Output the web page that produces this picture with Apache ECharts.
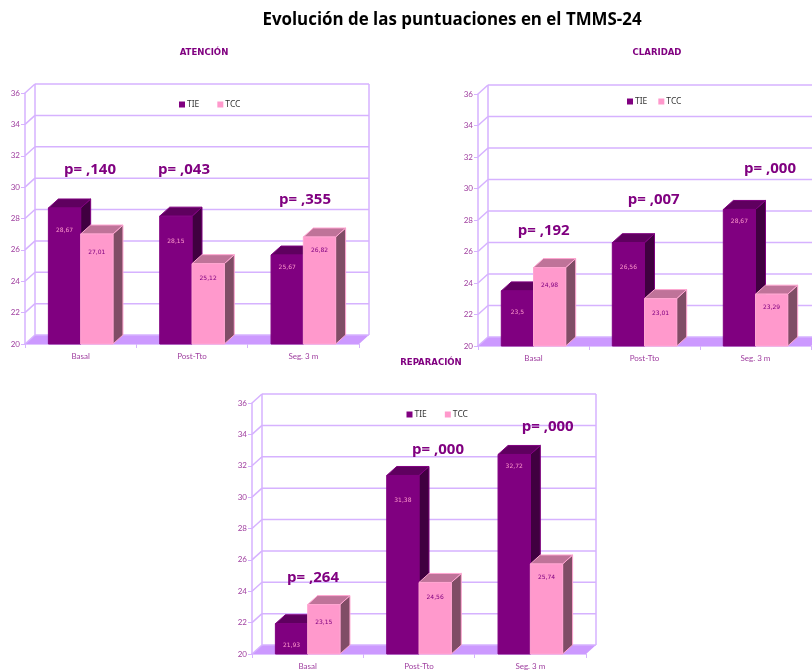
<!DOCTYPE html>
<html><head><meta charset="utf-8">
<style>html,body{margin:0;padding:0;background:#fff}#c{width:812px;height:670px}</style>
<script src="https://cdn.jsdelivr.net/npm/echarts@6/dist/echarts.min.js"></script>
</head><body><div id="c"></div>
<script>
const categories = ['Basal', 'Post-Tto', 'Seg. 3 m'];
const seriesNames = ['TIE', 'TCC'];
const yTicks = [20, 22, 24, 26, 28, 30, 32, 34, 36];
const panelTitles = ['ATENCIÓN', 'CLARIDAD', 'REPARACIÓN'];
const atencionTIE = [28.67, 28.15, 25.67];
const atencionTCC = [27.01, 25.12, 26.82];
const claridadTIE = [23.5, 26.56, 28.67];
const claridadTCC = [24.98, 23.01, 23.29];
const reparacionTIE = [21.93, 31.38, 32.72];
const reparacionTCC = [23.15, 24.56, 25.74];
const atencionP = ['p= ,140', 'p= ,043', 'p= ,355'];
const claridadP = ['p= ,192', 'p= ,007', 'p= ,000'];
const reparacionP = ['p= ,264', 'p= ,000', 'p= ,000'];

// layout
const panels = [
  {tie: atencionTIE, tcc: atencionTCC, p: atencionP, grid: {left: 25, top: 93, width: 334, height: 251},
   titleX: 204, titleY: 48, legend: {left: 179, top: 100, itemGap: 18}, pPos: [[64,169],[158,169],[279,199]]},
  {tie: claridadTIE, tcc: claridadTCC, p: claridadP, grid: {left: 478, top: 94, width: 333, height: 252},
   titleX: 657, titleY: 48, legend: {left: 627, top: 97, itemGap: 11}, pPos: [[517.7,230],[627.7,199],[744,168]]},
  {tie: reparacionTIE, tcc: reparacionTCC, p: reparacionP, grid: {left: 252, top: 403, width: 334, height: 251},
   titleX: 431, titleY: 358, legend: {left: 406.5, top: 410, itemGap: 18}, pPos: [[287,577],[412,449],[521.7,426]]}
];
const labelDrop = [[22, 25, 12], [18, 15, 13]];
const depthX = 10, depthY = 9, barRatio = 0.29;
const wallColor = '#CC99FF', wallLine = '#D6B2FF';
const barStyles = [
  {front: '#800080', top: '#5F005F', side: '#400040', edge: '#800080', text: '#FF99CC'},
  {front: '#FF99CC', top: '#BF7399', side: '#804D66', edge: '#FFA6D2', text: '#800080'}
];

function renderWall(params, api) {
  const cs = params.coordSys;
  const v = api.value(1);
  const y = api.coord([0, v])[1];
  const L = cs.x, R = cs.x + cs.width;
  const line = (x1, y1, x2, y2) => ({type: 'line', shape: {x1, y1, x2, y2},
    style: {stroke: wallLine, lineWidth: 1.5, fill: null}});
  const children = [
    line(L, y, L + depthX, y - depthY),
    line(L + depthX, y - depthY, R + depthX, y - depthY)
  ];
  if (v === yTicks[0]) {
    children.unshift({type: 'polygon', shape: {points: [[L, y], [R, y], [R + depthX, y - depthY], [L + depthX, y - depthY]]},
      style: {fill: wallColor}});
    children.push(line(L + depthX, y - depthY, L + depthX, cs.y - depthY));
    children.push(line(R + depthX, y - depthY, R + depthX, cs.y - depthY));
  }
  return {type: 'group', children};
}

function renderBar(seriesIdx) {
  const st = barStyles[seriesIdx];
  return function (params, api) {
    const i = api.value(0), val = api.value(1);
    const band = api.size([1, 0])[0];
    const w = band * barRatio;
    const c = api.coord([i, val]), b = api.coord([i, yTicks[0]]);
    const x0 = c[0] - w + seriesIdx * w, x1 = x0 + w, yT = c[1], yB = b[1];
    const edge = {stroke: st.edge, lineWidth: 1};
    return {type: 'group', children: [
      {type: 'polygon', shape: {points: [[x1, yT], [x1 + depthX, yT - depthY], [x1 + depthX, yB - depthY], [x1, yB]]},
       style: Object.assign({fill: st.side}, edge)},
      {type: 'polygon', shape: {points: [[x0, yT], [x0 + depthX, yT - depthY], [x1 + depthX, yT - depthY], [x1, yT]]},
       style: Object.assign({fill: st.top}, edge)},
      {type: 'rect', shape: {x: x0, y: yT, width: w, height: yB - yT},
       style: Object.assign({fill: st.front}, edge)},
      {type: 'text', x: (x0 + x1) / 2, y: yT + labelDrop[seriesIdx][i],
       style: {text: String(val).replace('.', ','), fill: st.text, font: '6px "DejaVu Sans"',
               textAlign: 'center', textVerticalAlign: 'middle'}}
    ]};
  };
}

const grid = [], xAxis = [], yAxis = [], series = [], legend = [], graphic = [];
const title = [{text: 'Evolución de las puntuaciones en el TMMS-24', left: 452, top: 12, padding: 0, textAlign: 'center',
  textStyle: {fontFamily: 'Open Sans', fontSize: 16.9, fontWeight: 'bold', color: '#000'}}];
const axisLine = {show: true, lineStyle: {color: wallLine, width: 1.5}};
const axisFont = {color: '#A040A0', fontSize: 8, fontFamily: 'Lato'};

panels.forEach((p, k) => {
  grid.push(Object.assign({containLabel: false}, p.grid));
  xAxis.push({type: 'category', gridIndex: k, data: categories, boundaryGap: true,
    axisLine, axisTick: {show: true, length: 4, lineStyle: {color: wallLine}},
    axisLabel: Object.assign({margin: 8}, axisFont), splitLine: {show: false}});
  yAxis.push({type: 'value', gridIndex: k, min: 20, max: 36, interval: 2,
    axisLine, axisTick: {show: true, length: 4, lineStyle: {color: wallLine}},
    axisLabel: Object.assign({margin: 5, padding: [3, 0, 0, 0]}, axisFont), splitLine: {show: false}});
  series.push({type: 'custom', name: 'wall' + k, xAxisIndex: k, yAxisIndex: k, z: 1, silent: true,
    data: yTicks.map(t => [0, t]), renderItem: renderWall});
  [p.tie, p.tcc].forEach((vals, s) => {
    series.push({type: 'custom', name: seriesNames[s], xAxisIndex: k, yAxisIndex: k, z: 2 + s,
      itemStyle: {color: barStyles[s].front},
      encode: {x: 0, y: 1}, data: vals.map((v, i) => [i, v]), renderItem: renderBar(s)});
  });
  legend.push(Object.assign({data: seriesNames, icon: 'rect', itemWidth: 6, itemHeight: 6, selectedMode: false,
    padding: 0, textStyle: {fontSize: 8.5, color: '#333', fontFamily: 'Noto Sans', padding: [0, 0, 0, -3]}}, p.legend));
  title.push({text: panelTitles[k], left: p.titleX, top: p.titleY, padding: 0, textAlign: 'center',
    textStyle: {fontSize: 9.5, fontWeight: 'bold', color: '#800080', fontFamily: 'DejaVu Sans Condensed'}});
  p.p.forEach((t, i) => {
    graphic.push({type: 'text', left: p.pPos[i][0], top: p.pPos[i][1] - 7, z: 10,
      style: {text: t, fill: '#800080', font: 'bold 15px "Open Sans"'}});
  });
});

const chart = echarts.init(document.getElementById('c'));
chart.setOption({animation: false, backgroundColor: '#fff', title, grid, xAxis, yAxis, legend, series, graphic});
</script></body></html>
